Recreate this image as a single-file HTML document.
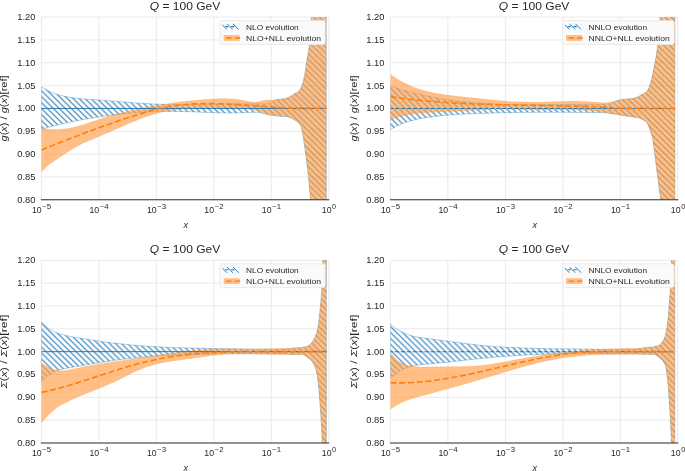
<!DOCTYPE html>
<html><head><meta charset="utf-8"><style>html,body{margin:0;padding:0;background:#fff;}svg{display:block;will-change:transform;font-family:"Liberation Sans", sans-serif;}</style></head><body>
<svg width="685" height="471" viewBox="0 0 685 471" font-family='"Liberation Sans", sans-serif'>
<defs><pattern id="hatch0" patternUnits="userSpaceOnUse" x="-1.5" y="0" width="5.96" height="5.96"><rect width="5.96" height="5.96" fill="#fff" fill-opacity="0"/><path d="M-1 -1L6.96 6.96M4.96 -1L6.96 1.00M-1 4.96L1.00 6.96" stroke="#1f77b4" stroke-width="1.05"/></pattern>
<pattern id="hatch1" patternUnits="userSpaceOnUse" x="-1.5" y="0" width="5.96" height="5.96"><rect width="5.96" height="5.96" fill="#fff" fill-opacity="0"/><path d="M-1 -1L6.96 6.96M4.96 -1L6.96 1.00M-1 4.96L1.00 6.96" stroke="#1f77b4" stroke-width="1.05"/></pattern>
<pattern id="hatch2" patternUnits="userSpaceOnUse" x="-1.5" y="0" width="5.96" height="5.96"><rect width="5.96" height="5.96" fill="#fff" fill-opacity="0"/><path d="M-1 -1L6.96 6.96M4.96 -1L6.96 1.00M-1 4.96L1.00 6.96" stroke="#1f77b4" stroke-width="1.05"/></pattern>
<pattern id="hatch3" patternUnits="userSpaceOnUse" x="-1.5" y="0" width="5.96" height="5.96"><rect width="5.96" height="5.96" fill="#fff" fill-opacity="0"/><path d="M-1 -1L6.96 6.96M4.96 -1L6.96 1.00M-1 4.96L1.00 6.96" stroke="#1f77b4" stroke-width="1.05"/></pattern>
<pattern id="hatchL0" patternUnits="userSpaceOnUse" x="-1.50" y="0.00" width="5.96" height="5.96"><path d="M-1 -1L6.96 6.96M4.96 -1L6.96 1.00M-1 4.96L1.00 6.96" stroke="#1f77b4" stroke-width="0.9"/></pattern>
<pattern id="hatchL1" patternUnits="userSpaceOnUse" x="-1.50" y="0.00" width="5.96" height="5.96"><path d="M-1 -1L6.96 6.96M4.96 -1L6.96 1.00M-1 4.96L1.00 6.96" stroke="#1f77b4" stroke-width="0.9"/></pattern>
<pattern id="hatchL2" patternUnits="userSpaceOnUse" x="-1.50" y="0.00" width="5.96" height="5.96"><path d="M-1 -1L6.96 6.96M4.96 -1L6.96 1.00M-1 4.96L1.00 6.96" stroke="#1f77b4" stroke-width="0.9"/></pattern>
<pattern id="hatchL3" patternUnits="userSpaceOnUse" x="-1.50" y="0.00" width="5.96" height="5.96"><path d="M-1 -1L6.96 6.96M4.96 -1L6.96 1.00M-1 4.96L1.00 6.96" stroke="#1f77b4" stroke-width="0.9"/></pattern></defs>
<rect width="685" height="471" fill="#fff"/>
<clipPath id="clip0"><rect x="41.35" y="17.10" width="287.40" height="182.70"/></clipPath>
<path d="M41.35 199.80H328.75M41.35 176.96H328.75M41.35 154.12H328.75M41.35 131.29H328.75M41.35 108.45H328.75M41.35 85.61H328.75M41.35 62.77H328.75M41.35 39.94H328.75M41.35 17.10H328.75M41.35 17.10V199.80M98.83 17.10V199.80M156.31 17.10V199.80M213.79 17.10V199.80M271.27 17.10V199.80M328.75 17.10V199.80" stroke="#e7e7e7" stroke-width="0.9" fill="none"/>
<g clip-path="url(#clip0)"><path d="M41.4 86.6L44.4 88.6L47.8 90.4L51.1 92.0L54.7 93.5L58.2 94.7L62.0 95.7L66.1 96.6L70.6 97.4L77.0 98.2L84.6 99.0L105.7 100.5L138.5 103.2L153.9 104.1L166.1 104.5L179.4 104.6L193.4 104.5L234.5 103.7L268.2 103.9L271.5 102.4L277.0 99.6L282.9 99.0L285.5 98.6L286.7 98.2L290.3 96.5L294.6 93.7L297.9 92.1L299.1 91.1L300.5 88.9L301.7 86.5L302.9 83.0L303.8 79.3L305.0 73.5L307.2 58.7L308.6 50.5L309.3 45.2L309.8 40.4L310.5 30.9L311.2 18.2L312.1 -12.9L326.2 -12.9L326.2 229.8L311.2 229.8L310.5 199.6L310.0 192.9L308.6 177.3L307.6 168.7L303.8 139.9L302.6 132.6L301.2 126.7L300.5 125.1L299.3 123.4L297.9 122.1L296.2 120.9L292.0 118.4L289.1 117.2L287.2 116.6L279.1 116.2L270.8 115.1L267.3 114.4L261.1 112.8L259.2 112.4L257.3 112.3L250.9 112.3L237.6 112.9L229.2 113.0L217.1 112.8L190.8 111.7L178.9 111.4L163.7 111.4L148.7 111.9L135.2 112.7L121.9 113.9L108.3 115.5L95.0 117.5L81.5 119.8L68.2 122.5L54.7 125.6L41.4 129.1Z" fill="url(#hatch0)" stroke="#1f77b4" stroke-opacity="0.35" stroke-width="1"/><path d="M41.4 128.5L49.7 129.2L57.0 129.4L63.9 129.0L70.6 128.0L75.8 126.8L81.5 125.2L100.3 118.9L109.0 116.1L117.8 113.7L126.9 111.4L139.2 108.7L152.5 106.1L167.0 103.8L181.0 101.8L192.9 100.5L204.5 99.5L216.2 98.8L225.0 98.6L230.9 98.8L236.4 99.2L241.4 100.0L250.1 101.8L252.8 102.2L254.9 102.2L257.5 101.9L263.2 100.6L266.3 100.1L269.6 99.9L277.9 99.5L282.7 99.0L286.0 98.5L288.2 97.6L290.8 96.2L294.6 93.7L297.9 92.1L299.1 91.1L300.7 88.5L301.9 85.8L303.1 82.2L304.1 78.3L305.3 72.1L307.2 58.7L308.6 50.5L309.3 45.2L309.8 40.4L310.5 30.9L311.2 18.2L312.1 -12.9L326.2 -12.9L326.2 229.8L311.2 229.8L310.5 199.6L310.0 192.9L308.3 175.0L307.4 166.9L304.1 141.7L303.1 135.3L302.4 131.4L301.7 128.4L301.0 126.1L300.3 124.7L298.8 122.9L296.9 121.4L291.7 118.3L290.1 117.5L288.4 116.9L286.5 116.4L284.6 116.2L273.0 115.4L267.7 114.6L263.9 113.6L256.6 110.6L252.8 109.5L249.7 109.1L246.1 108.8L219.3 107.9L205.5 107.8L193.4 108.1L182.5 108.9L172.2 110.3L162.5 112.1L153.2 114.6L148.0 116.2L142.5 118.1L130.2 123.0L102.6 134.9L87.2 141.5L82.4 143.6L78.2 145.7L73.7 148.2L69.6 150.7L58.2 158.5L49.7 164.1L47.3 165.9L45.2 167.9L43.3 170.0L41.4 172.4Z" fill="#ff9d45" fill-opacity="0.65" stroke="#ff7f0e" stroke-opacity="0.10" stroke-width="1"/><path d="M41.35 108.45H326.16" stroke="#1f77b4" stroke-width="0.95"/><path d="M41.4 150.0L57.3 143.5L88.1 131.7L106.0 125.2L122.6 119.4L139.5 114.0L153.0 110.1L163.2 107.6L173.7 105.8L183.2 104.7L192.9 103.9L203.1 103.6L214.0 103.6L224.3 103.9L235.7 104.5L273.0 107.2L287.9 108.2L298.6 108.4L326.2 108.4" fill="none" stroke="#ff7f0e" stroke-width="1.6" stroke-dasharray="6.1 2.65"/></g>
<path d="M40.85 199.80H329.25" stroke="#333" stroke-width="1.1"/>
<text x="35.45" y="202.80" font-size="8.4" text-anchor="end" textLength="18.2" lengthAdjust="spacingAndGlyphs" fill="#262626">0.80</text>
<text x="35.45" y="179.96" font-size="8.4" text-anchor="end" textLength="18.2" lengthAdjust="spacingAndGlyphs" fill="#262626">0.85</text>
<text x="35.45" y="157.12" font-size="8.4" text-anchor="end" textLength="18.2" lengthAdjust="spacingAndGlyphs" fill="#262626">0.90</text>
<text x="35.45" y="134.29" font-size="8.4" text-anchor="end" textLength="18.2" lengthAdjust="spacingAndGlyphs" fill="#262626">0.95</text>
<text x="35.45" y="111.45" font-size="8.4" text-anchor="end" textLength="18.2" lengthAdjust="spacingAndGlyphs" fill="#262626">1.00</text>
<text x="35.45" y="88.61" font-size="8.4" text-anchor="end" textLength="18.2" lengthAdjust="spacingAndGlyphs" fill="#262626">1.05</text>
<text x="35.45" y="65.77" font-size="8.4" text-anchor="end" textLength="18.2" lengthAdjust="spacingAndGlyphs" fill="#262626">1.10</text>
<text x="35.45" y="42.94" font-size="8.4" text-anchor="end" textLength="18.2" lengthAdjust="spacingAndGlyphs" fill="#262626">1.15</text>
<text x="35.45" y="20.10" font-size="8.4" text-anchor="end" textLength="18.2" lengthAdjust="spacingAndGlyphs" fill="#262626">1.20</text>
<text x="31.95" y="212.70" font-size="8.7" textLength="9.70" lengthAdjust="spacingAndGlyphs" fill="#262626">10</text>
<text x="42.25" y="209.20" font-size="6.6" textLength="8.90" lengthAdjust="spacingAndGlyphs" fill="#262626">−5</text>
<text x="89.43" y="212.70" font-size="8.7" textLength="9.70" lengthAdjust="spacingAndGlyphs" fill="#262626">10</text>
<text x="99.73" y="209.20" font-size="6.6" textLength="8.90" lengthAdjust="spacingAndGlyphs" fill="#262626">−4</text>
<text x="146.91" y="212.70" font-size="8.7" textLength="9.70" lengthAdjust="spacingAndGlyphs" fill="#262626">10</text>
<text x="157.21" y="209.20" font-size="6.6" textLength="8.90" lengthAdjust="spacingAndGlyphs" fill="#262626">−3</text>
<text x="204.39" y="212.70" font-size="8.7" textLength="9.70" lengthAdjust="spacingAndGlyphs" fill="#262626">10</text>
<text x="214.69" y="209.20" font-size="6.6" textLength="8.90" lengthAdjust="spacingAndGlyphs" fill="#262626">−2</text>
<text x="261.87" y="212.70" font-size="8.7" textLength="9.70" lengthAdjust="spacingAndGlyphs" fill="#262626">10</text>
<text x="272.17" y="209.20" font-size="6.6" textLength="8.90" lengthAdjust="spacingAndGlyphs" fill="#262626">−1</text>
<text x="321.80" y="212.70" font-size="8.7" textLength="9.70" lengthAdjust="spacingAndGlyphs" fill="#262626">10</text>
<text x="332.10" y="209.20" font-size="6.6" textLength="4.00" lengthAdjust="spacingAndGlyphs" fill="#262626">0</text>
<text x="185.05" y="9.50" font-size="10.6" text-anchor="middle" textLength="70.5" lengthAdjust="spacingAndGlyphs" fill="#262626"><tspan font-style="italic">Q</tspan> = 100 GeV</text>
<text x="185.65" y="228.00" font-size="9" font-style="italic" text-anchor="middle" fill="#262626">x</text>
<text transform="translate(7.45 108.45) rotate(-90)" font-size="9.0" text-anchor="middle" textLength="66.0" lengthAdjust="spacingAndGlyphs" fill="#262626"><tspan font-style="italic">g</tspan>(<tspan font-style="italic">x</tspan>) / <tspan font-style="italic">g</tspan>(<tspan font-style="italic">x</tspan>)[ref]</text>
<rect x="220.15" y="20.60" width="105.00" height="23.8" rx="2" fill="#fafafa" stroke="#e6e6e6" stroke-width="0.8"/>
<clipPath id="lc0"><rect x="222.45" y="23.70" width="16.8" height="5.9"/></clipPath>
<path clip-path="url(#lc0)" d="M220.85 23.40l6.4 6.4M226.75 23.40l6.4 6.4M232.55 23.40l6.4 6.4M238.65 23.40l6.4 6.4" stroke="#1f77b4" stroke-width="0.95"/>
<path d="M225.25 26.60h3.1M231.15 26.60h3.1" stroke="#1f77b4" stroke-width="1.1"/>
<rect x="223.65" y="35.10" width="16" height="5.7" fill="#ff7f0e" fill-opacity="0.5"/>
<path d="M226.15 38.00h14" stroke="#ff7f0e" stroke-width="1.3" stroke-dasharray="5.4 3.2"/>
<text x="246.05" y="29.90" font-size="7.8" textLength="52.6" lengthAdjust="spacingAndGlyphs" fill="#262626">NLO evolution</text>
<text x="246.05" y="40.70" font-size="7.8" textLength="74.9" lengthAdjust="spacingAndGlyphs" fill="#262626">NLO+NLL evolution</text>
<clipPath id="clip1"><rect x="390.40" y="17.10" width="287.40" height="182.70"/></clipPath>
<path d="M390.40 199.80H677.80M390.40 176.96H677.80M390.40 154.12H677.80M390.40 131.29H677.80M390.40 108.45H677.80M390.40 85.61H677.80M390.40 62.77H677.80M390.40 39.94H677.80M390.40 17.10H677.80M390.40 17.10V199.80M447.88 17.10V199.80M505.36 17.10V199.80M562.84 17.10V199.80M620.32 17.10V199.80M677.80 17.10V199.80" stroke="#e7e7e7" stroke-width="0.9" fill="none"/>
<g clip-path="url(#clip1)"><path d="M390.4 85.8L401.8 89.6L413.4 92.8L425.5 95.7L437.8 98.1L450.7 100.2L463.9 101.8L477.7 103.0L492.4 103.9L508.5 104.5L526.6 104.7L543.6 104.7L584.7 104.3L605.8 104.3L607.9 103.9L610.1 103.4L612.4 102.4L614.6 101.3L619.1 100.1L622.9 99.5L632.1 98.6L634.5 98.1L636.6 97.5L638.0 96.9L640.9 95.1L644.9 93.0L646.1 92.1L647.3 90.8L648.5 88.9L649.4 86.6L650.9 82.2L652.0 77.4L654.9 63.6L656.1 56.9L657.3 48.7L658.7 36.4L659.6 25.8L660.3 14.4L661.1 -10.0L661.3 -12.9L674.8 -12.9L674.8 229.8L661.5 229.8L661.3 229.4L660.8 204.6L660.6 198.7L660.3 196.1L657.5 175.2L653.7 145.4L652.8 139.1L652.3 136.9L651.6 134.5L650.1 130.6L648.5 125.4L647.5 123.4L646.3 121.9L644.7 120.7L642.3 119.3L639.5 118.1L636.6 117.4L625.0 115.8L608.2 113.0L604.1 112.6L556.9 112.2L527.7 112.3L497.6 112.8L469.4 113.8L454.2 114.6L440.9 115.7L428.8 117.2L419.3 118.7L411.3 120.7L407.5 121.8L403.9 123.1L400.4 124.5L397.0 126.0L393.7 127.7L390.4 129.6Z" fill="url(#hatch1)" stroke="#1f77b4" stroke-opacity="0.35" stroke-width="1"/><path d="M390.4 74.3L394.7 77.3L398.9 79.9L403.2 82.3L407.7 84.6L412.5 86.7L417.2 88.4L422.2 90.1L427.4 91.5L436.7 93.5L447.3 95.1L457.5 96.3L493.1 100.1L510.4 101.5L525.6 102.1L538.9 102.2L565.5 101.3L576.6 101.1L586.3 101.4L599.9 102.6L604.8 102.8L607.4 102.6L609.8 102.4L612.2 101.9L620.3 99.9L623.6 99.4L631.9 98.6L634.2 98.2L636.4 97.6L638.0 96.9L641.1 95.0L644.7 93.1L645.9 92.3L647.1 91.1L648.2 89.4L649.2 87.3L650.9 82.2L651.8 78.4L654.6 64.8L655.8 58.4L657.3 48.7L658.7 36.4L659.6 25.8L660.3 14.4L661.1 -10.0L661.3 -12.9L674.8 -12.9L674.8 229.8L661.5 229.8L661.3 229.4L660.8 204.6L660.6 198.7L660.3 196.1L657.5 175.2L653.7 145.4L652.8 139.1L651.8 135.3L650.1 130.6L648.5 125.4L647.8 123.8L646.6 122.2L645.2 121.0L642.8 119.6L639.9 118.3L638.3 117.7L636.6 117.4L625.7 115.9L601.5 112.0L593.0 110.9L585.1 110.2L578.5 109.8L571.2 109.6L537.0 109.7L512.1 108.9L502.8 108.9L494.8 109.0L485.5 109.4L459.9 111.0L429.3 112.5L419.1 113.3L411.0 114.3L403.7 115.7L396.8 117.6L390.4 120.0Z" fill="#ff9d45" fill-opacity="0.65" stroke="#ff7f0e" stroke-opacity="0.10" stroke-width="1"/><path d="M390.40 108.45H674.81" stroke="#1f77b4" stroke-width="1.05" stroke-dasharray="4.1 1.85" stroke-dashoffset="1.45"/><path d="M390.4 96.9L408.7 99.2L427.6 101.1L448.0 102.6L470.1 103.8L499.3 104.7L556.7 105.7L580.6 106.3L609.3 107.5L619.3 108.4L674.8 108.4" fill="none" stroke="#ff7f0e" stroke-width="1.6" stroke-dasharray="6.1 2.65"/></g>
<path d="M389.90 199.80H678.30" stroke="#333" stroke-width="1.1"/>
<text x="384.50" y="202.80" font-size="8.4" text-anchor="end" textLength="18.2" lengthAdjust="spacingAndGlyphs" fill="#262626">0.80</text>
<text x="384.50" y="179.96" font-size="8.4" text-anchor="end" textLength="18.2" lengthAdjust="spacingAndGlyphs" fill="#262626">0.85</text>
<text x="384.50" y="157.12" font-size="8.4" text-anchor="end" textLength="18.2" lengthAdjust="spacingAndGlyphs" fill="#262626">0.90</text>
<text x="384.50" y="134.29" font-size="8.4" text-anchor="end" textLength="18.2" lengthAdjust="spacingAndGlyphs" fill="#262626">0.95</text>
<text x="384.50" y="111.45" font-size="8.4" text-anchor="end" textLength="18.2" lengthAdjust="spacingAndGlyphs" fill="#262626">1.00</text>
<text x="384.50" y="88.61" font-size="8.4" text-anchor="end" textLength="18.2" lengthAdjust="spacingAndGlyphs" fill="#262626">1.05</text>
<text x="384.50" y="65.77" font-size="8.4" text-anchor="end" textLength="18.2" lengthAdjust="spacingAndGlyphs" fill="#262626">1.10</text>
<text x="384.50" y="42.94" font-size="8.4" text-anchor="end" textLength="18.2" lengthAdjust="spacingAndGlyphs" fill="#262626">1.15</text>
<text x="384.50" y="20.10" font-size="8.4" text-anchor="end" textLength="18.2" lengthAdjust="spacingAndGlyphs" fill="#262626">1.20</text>
<text x="381.00" y="212.70" font-size="8.7" textLength="9.70" lengthAdjust="spacingAndGlyphs" fill="#262626">10</text>
<text x="391.30" y="209.20" font-size="6.6" textLength="8.90" lengthAdjust="spacingAndGlyphs" fill="#262626">−5</text>
<text x="438.48" y="212.70" font-size="8.7" textLength="9.70" lengthAdjust="spacingAndGlyphs" fill="#262626">10</text>
<text x="448.78" y="209.20" font-size="6.6" textLength="8.90" lengthAdjust="spacingAndGlyphs" fill="#262626">−4</text>
<text x="495.96" y="212.70" font-size="8.7" textLength="9.70" lengthAdjust="spacingAndGlyphs" fill="#262626">10</text>
<text x="506.26" y="209.20" font-size="6.6" textLength="8.90" lengthAdjust="spacingAndGlyphs" fill="#262626">−3</text>
<text x="553.44" y="212.70" font-size="8.7" textLength="9.70" lengthAdjust="spacingAndGlyphs" fill="#262626">10</text>
<text x="563.74" y="209.20" font-size="6.6" textLength="8.90" lengthAdjust="spacingAndGlyphs" fill="#262626">−2</text>
<text x="610.92" y="212.70" font-size="8.7" textLength="9.70" lengthAdjust="spacingAndGlyphs" fill="#262626">10</text>
<text x="621.22" y="209.20" font-size="6.6" textLength="8.90" lengthAdjust="spacingAndGlyphs" fill="#262626">−1</text>
<text x="670.85" y="212.70" font-size="8.7" textLength="9.70" lengthAdjust="spacingAndGlyphs" fill="#262626">10</text>
<text x="681.15" y="209.20" font-size="6.6" textLength="4.00" lengthAdjust="spacingAndGlyphs" fill="#262626">0</text>
<text x="534.10" y="9.50" font-size="10.6" text-anchor="middle" textLength="70.5" lengthAdjust="spacingAndGlyphs" fill="#262626"><tspan font-style="italic">Q</tspan> = 100 GeV</text>
<text x="534.70" y="228.00" font-size="9" font-style="italic" text-anchor="middle" fill="#262626">x</text>
<text transform="translate(356.50 108.45) rotate(-90)" font-size="9.0" text-anchor="middle" textLength="66.0" lengthAdjust="spacingAndGlyphs" fill="#262626"><tspan font-style="italic">g</tspan>(<tspan font-style="italic">x</tspan>) / <tspan font-style="italic">g</tspan>(<tspan font-style="italic">x</tspan>)[ref]</text>
<rect x="562.60" y="20.60" width="111.60" height="23.8" rx="2" fill="#fafafa" stroke="#e6e6e6" stroke-width="0.8"/>
<clipPath id="lc1"><rect x="564.90" y="23.70" width="16.8" height="5.9"/></clipPath>
<path clip-path="url(#lc1)" d="M563.30 23.40l6.4 6.4M569.20 23.40l6.4 6.4M575.00 23.40l6.4 6.4M581.10 23.40l6.4 6.4" stroke="#1f77b4" stroke-width="0.95"/>
<path d="M567.70 26.60h3.1M573.60 26.60h3.1" stroke="#1f77b4" stroke-width="1.1"/>
<rect x="566.10" y="35.10" width="16" height="5.7" fill="#ff7f0e" fill-opacity="0.5"/>
<path d="M568.60 38.00h14" stroke="#ff7f0e" stroke-width="1.3" stroke-dasharray="5.4 3.2"/>
<text x="588.50" y="29.90" font-size="7.8" textLength="58.6" lengthAdjust="spacingAndGlyphs" fill="#262626">NNLO evolution</text>
<text x="588.50" y="40.70" font-size="7.8" textLength="81.2" lengthAdjust="spacingAndGlyphs" fill="#262626">NNLO+NLL evolution</text>
<clipPath id="clip2"><rect x="41.35" y="260.30" width="287.40" height="182.70"/></clipPath>
<path d="M41.35 443.00H328.75M41.35 420.16H328.75M41.35 397.32H328.75M41.35 374.49H328.75M41.35 351.65H328.75M41.35 328.81H328.75M41.35 305.97H328.75M41.35 283.14H328.75M41.35 260.30H328.75M41.35 260.30V443.00M98.83 260.30V443.00M156.31 260.30V443.00M213.79 260.30V443.00M271.27 260.30V443.00M328.75 260.30V443.00" stroke="#e7e7e7" stroke-width="0.9" fill="none"/>
<g clip-path="url(#clip2)"><path d="M41.4 321.7L43.7 324.2L46.1 326.4L48.5 328.2L51.1 329.9L53.9 331.5L56.8 332.8L59.9 333.9L63.5 334.9L68.2 336.0L75.3 337.4L95.1 340.5L113.6 343.1L131.0 344.9L141.4 345.8L152.1 346.6L175.9 347.7L199.2 348.3L252.4 349.2L285.7 349.2L294.2 348.0L298.5 347.8L302.1 347.5L304.2 347.1L306.4 346.5L308.5 345.7L309.7 344.9L311.6 342.9L313.5 340.2L314.9 337.5L316.4 334.1L317.3 330.9L318.0 327.3L319.2 318.7L320.9 301.9L321.6 292.4L322.1 282.0L322.5 267.0L323.2 232.0L323.5 230.3L326.3 230.3L326.3 473.0L322.8 473.0L322.3 444.4L322.1 437.8L320.9 415.2L319.2 392.2L318.0 381.0L317.1 374.3L316.1 370.1L315.2 367.0L314.2 364.7L312.8 362.2L311.4 360.4L309.2 358.5L304.5 355.1L303.0 354.4L300.9 354.3L294.2 354.6L285.5 353.7L249.1 353.7L217.0 354.0L198.5 354.2L180.4 354.7L164.2 355.5L149.0 356.5L134.8 357.8L119.8 359.6L102.9 362.0L68.9 367.8L61.6 369.3L58.7 370.1L55.8 371.1L53.2 372.3L50.6 373.8L48.2 375.4L45.9 377.2L43.5 379.4L41.4 381.7Z" fill="url(#hatch2)" stroke="#1f77b4" stroke-opacity="0.35" stroke-width="1"/><path d="M41.4 363.0L44.4 365.1L47.3 366.8L50.1 368.2L52.8 369.3L55.4 370.1L57.8 370.5L60.4 370.8L63.2 370.7L68.4 370.1L86.3 366.3L104.3 363.2L165.7 354.0L180.2 352.0L192.3 350.6L205.4 349.5L217.5 348.9L228.4 348.8L259.1 348.9L296.4 347.9L300.7 347.6L303.3 347.3L305.9 346.6L308.5 345.7L309.9 344.7L311.4 343.2L313.0 341.0L314.5 338.5L315.9 335.3L316.8 332.6L317.5 329.9L318.3 325.9L319.2 318.7L320.6 304.4L321.6 292.4L322.1 282.0L322.5 267.0L323.2 232.0L323.5 230.3L326.3 230.3L326.3 473.0L322.8 473.0L322.3 444.4L322.1 437.8L320.9 415.2L319.2 392.2L317.8 379.1L316.8 373.1L315.9 369.2L314.9 366.3L313.7 363.7L312.6 361.8L310.9 359.9L309.0 358.3L304.2 355.0L302.8 354.3L292.3 354.7L280.0 354.8L245.0 353.6L235.3 353.7L226.5 354.1L218.4 354.8L209.2 355.9L174.9 360.7L163.5 362.6L154.3 364.7L146.4 367.1L139.0 370.0L132.1 373.1L116.5 380.9L109.6 384.1L101.2 387.6L78.4 396.7L71.5 399.8L65.6 402.7L62.0 404.6L58.7 406.6L55.8 408.6L53.0 410.9L50.1 413.4L47.3 416.3L44.4 419.4L41.4 423.1Z" fill="#ff9d45" fill-opacity="0.65" stroke="#ff7f0e" stroke-opacity="0.10" stroke-width="1"/><path d="M41.35 351.65H326.34" stroke="#1f77b4" stroke-width="0.95"/><path d="M41.4 392.4L47.8 391.0L54.4 389.4L69.2 385.3L83.4 380.9L118.4 369.5L128.1 366.5L136.9 364.0L146.2 361.7L155.7 359.6L165.4 357.7L175.4 356.1L187.5 354.6L200.1 353.4L213.4 352.5L227.9 352.0L242.2 351.7L326.3 351.6" fill="none" stroke="#ff7f0e" stroke-width="1.6" stroke-dasharray="6.1 2.65"/></g>
<path d="M40.85 443.00H329.25" stroke="#333" stroke-width="1.1"/>
<text x="35.45" y="446.00" font-size="8.4" text-anchor="end" textLength="18.2" lengthAdjust="spacingAndGlyphs" fill="#262626">0.80</text>
<text x="35.45" y="423.16" font-size="8.4" text-anchor="end" textLength="18.2" lengthAdjust="spacingAndGlyphs" fill="#262626">0.85</text>
<text x="35.45" y="400.32" font-size="8.4" text-anchor="end" textLength="18.2" lengthAdjust="spacingAndGlyphs" fill="#262626">0.90</text>
<text x="35.45" y="377.49" font-size="8.4" text-anchor="end" textLength="18.2" lengthAdjust="spacingAndGlyphs" fill="#262626">0.95</text>
<text x="35.45" y="354.65" font-size="8.4" text-anchor="end" textLength="18.2" lengthAdjust="spacingAndGlyphs" fill="#262626">1.00</text>
<text x="35.45" y="331.81" font-size="8.4" text-anchor="end" textLength="18.2" lengthAdjust="spacingAndGlyphs" fill="#262626">1.05</text>
<text x="35.45" y="308.97" font-size="8.4" text-anchor="end" textLength="18.2" lengthAdjust="spacingAndGlyphs" fill="#262626">1.10</text>
<text x="35.45" y="286.14" font-size="8.4" text-anchor="end" textLength="18.2" lengthAdjust="spacingAndGlyphs" fill="#262626">1.15</text>
<text x="35.45" y="263.30" font-size="8.4" text-anchor="end" textLength="18.2" lengthAdjust="spacingAndGlyphs" fill="#262626">1.20</text>
<text x="31.95" y="455.90" font-size="8.7" textLength="9.70" lengthAdjust="spacingAndGlyphs" fill="#262626">10</text>
<text x="42.25" y="452.40" font-size="6.6" textLength="8.90" lengthAdjust="spacingAndGlyphs" fill="#262626">−5</text>
<text x="89.43" y="455.90" font-size="8.7" textLength="9.70" lengthAdjust="spacingAndGlyphs" fill="#262626">10</text>
<text x="99.73" y="452.40" font-size="6.6" textLength="8.90" lengthAdjust="spacingAndGlyphs" fill="#262626">−4</text>
<text x="146.91" y="455.90" font-size="8.7" textLength="9.70" lengthAdjust="spacingAndGlyphs" fill="#262626">10</text>
<text x="157.21" y="452.40" font-size="6.6" textLength="8.90" lengthAdjust="spacingAndGlyphs" fill="#262626">−3</text>
<text x="204.39" y="455.90" font-size="8.7" textLength="9.70" lengthAdjust="spacingAndGlyphs" fill="#262626">10</text>
<text x="214.69" y="452.40" font-size="6.6" textLength="8.90" lengthAdjust="spacingAndGlyphs" fill="#262626">−2</text>
<text x="261.87" y="455.90" font-size="8.7" textLength="9.70" lengthAdjust="spacingAndGlyphs" fill="#262626">10</text>
<text x="272.17" y="452.40" font-size="6.6" textLength="8.90" lengthAdjust="spacingAndGlyphs" fill="#262626">−1</text>
<text x="321.80" y="455.90" font-size="8.7" textLength="9.70" lengthAdjust="spacingAndGlyphs" fill="#262626">10</text>
<text x="332.10" y="452.40" font-size="6.6" textLength="4.00" lengthAdjust="spacingAndGlyphs" fill="#262626">0</text>
<text x="185.05" y="252.70" font-size="10.6" text-anchor="middle" textLength="70.5" lengthAdjust="spacingAndGlyphs" fill="#262626"><tspan font-style="italic">Q</tspan> = 100 GeV</text>
<text x="185.65" y="471.20" font-size="9" font-style="italic" text-anchor="middle" fill="#262626">x</text>
<text transform="translate(7.45 351.65) rotate(-90)" font-size="9.0" text-anchor="middle" textLength="73.9" lengthAdjust="spacingAndGlyphs" fill="#262626"><tspan font-style="italic">Σ</tspan>(<tspan font-style="italic">x</tspan>) / <tspan font-style="italic">Σ</tspan>(<tspan font-style="italic">x</tspan>)[ref]</text>
<rect x="220.15" y="263.80" width="105.00" height="23.8" rx="2" fill="#fafafa" stroke="#e6e6e6" stroke-width="0.8"/>
<clipPath id="lc2"><rect x="222.45" y="266.90" width="16.8" height="5.9"/></clipPath>
<path clip-path="url(#lc2)" d="M220.85 266.60l6.4 6.4M226.75 266.60l6.4 6.4M232.55 266.60l6.4 6.4M238.65 266.60l6.4 6.4" stroke="#1f77b4" stroke-width="0.95"/>
<path d="M225.25 269.80h3.1M231.15 269.80h3.1" stroke="#1f77b4" stroke-width="1.1"/>
<rect x="223.65" y="278.30" width="16" height="5.7" fill="#ff7f0e" fill-opacity="0.5"/>
<path d="M226.15 281.20h14" stroke="#ff7f0e" stroke-width="1.3" stroke-dasharray="5.4 3.2"/>
<text x="246.05" y="273.10" font-size="7.8" textLength="52.6" lengthAdjust="spacingAndGlyphs" fill="#262626">NLO evolution</text>
<text x="246.05" y="283.90" font-size="7.8" textLength="74.9" lengthAdjust="spacingAndGlyphs" fill="#262626">NLO+NLL evolution</text>
<clipPath id="clip3"><rect x="390.40" y="260.30" width="287.40" height="182.70"/></clipPath>
<path d="M390.40 443.00H677.80M390.40 420.16H677.80M390.40 397.32H677.80M390.40 374.49H677.80M390.40 351.65H677.80M390.40 328.81H677.80M390.40 305.97H677.80M390.40 283.14H677.80M390.40 260.30H677.80M390.40 260.30V443.00M447.88 260.30V443.00M505.36 260.30V443.00M562.84 260.30V443.00M620.32 260.30V443.00M677.80 260.30V443.00" stroke="#e7e7e7" stroke-width="0.9" fill="none"/>
<g clip-path="url(#clip3)"><path d="M390.4 323.7L393.0 326.1L395.6 328.2L398.5 330.1L401.3 331.7L404.4 333.2L407.5 334.4L410.8 335.5L414.3 336.4L418.9 337.3L424.3 338.1L465.1 343.5L478.1 345.1L490.7 346.3L501.4 347.0L512.5 347.6L524.4 348.1L537.4 348.5L602.1 349.3L634.6 349.3L639.6 348.6L643.4 347.9L653.1 346.9L656.0 346.4L658.6 345.7L659.3 345.3L660.0 344.8L661.4 343.2L663.3 340.6L664.5 338.2L665.2 336.2L665.9 333.4L666.6 330.0L667.3 325.3L668.3 316.8L670.4 288.8L671.4 261.9L672.1 230.3L674.7 230.3L674.7 473.0L672.3 473.0L672.1 472.8L671.6 443.7L670.2 414.4L669.2 399.5L668.1 384.7L667.1 374.9L666.4 370.1L665.7 366.5L665.2 364.9L664.5 363.3L663.6 361.8L661.9 359.8L660.2 358.1L657.1 355.7L655.3 354.7L654.3 354.5L650.7 354.2L643.4 354.2L639.8 353.9L635.8 353.8L621.8 354.1L587.2 353.7L560.9 353.9L542.4 354.3L524.4 355.1L507.1 356.2L490.0 357.5L475.8 359.0L444.5 362.5L422.2 364.5L417.4 365.1L413.4 365.8L410.1 366.6L407.0 367.6L403.9 368.9L401.1 370.4L398.2 372.1L395.6 374.0L393.0 376.2L390.4 378.8Z" fill="url(#hatch3)" stroke="#1f77b4" stroke-opacity="0.35" stroke-width="1"/><path d="M390.4 353.4L391.3 353.9L392.3 354.8L396.8 359.7L398.2 360.9L399.6 361.9L402.3 363.2L405.3 364.5L408.4 365.4L411.5 366.1L416.5 366.8L422.2 367.0L463.2 366.6L470.1 366.3L476.5 365.9L482.9 365.3L489.5 364.4L502.3 362.3L527.7 357.6L538.1 355.8L551.4 353.9L565.2 352.2L582.5 350.6L601.2 349.4L623.2 348.4L628.9 348.2L637.5 348.2L642.2 348.0L653.1 346.9L656.2 346.3L658.8 345.6L660.0 344.8L661.7 342.9L663.3 340.6L664.5 338.2L665.2 336.2L665.9 333.4L666.6 330.0L667.3 325.3L668.3 316.8L670.4 288.8L671.4 261.9L672.1 230.3L674.7 230.3L674.7 473.0L672.3 473.0L672.1 472.8L671.6 443.7L670.2 414.4L669.2 399.5L668.1 384.7L667.1 374.9L666.4 370.1L665.7 366.5L665.2 364.9L664.5 363.3L663.6 361.8L661.7 359.5L660.0 357.9L656.7 355.4L655.7 354.9L654.8 354.5L651.7 354.3L647.9 354.2L618.7 354.3L603.6 354.6L590.8 355.1L579.4 355.9L568.9 357.0L559.2 358.5L549.0 360.4L536.5 363.3L522.5 367.0L509.4 370.7L480.3 379.6L466.3 383.7L411.5 398.8L405.3 401.0L399.9 403.4L394.9 406.3L390.4 409.6Z" fill="#ff9d45" fill-opacity="0.65" stroke="#ff7f0e" stroke-opacity="0.10" stroke-width="1"/><path d="M390.40 351.65H674.70" stroke="#1f77b4" stroke-width="1.05" stroke-dasharray="4.1 1.85" stroke-dashoffset="1.45"/><path d="M390.4 382.7L396.6 382.9L402.7 382.9L409.1 382.7L415.8 382.4L422.4 381.8L429.3 381.1L444.0 379.0L456.8 376.8L471.3 373.8L485.0 370.7L519.4 362.7L537.6 358.8L547.1 357.0L555.9 355.5L564.4 354.2L572.5 353.2L582.5 352.3L591.9 351.8L609.0 351.6L674.7 351.6" fill="none" stroke="#ff7f0e" stroke-width="1.6" stroke-dasharray="6.1 2.65"/></g>
<path d="M389.90 443.00H678.30" stroke="#333" stroke-width="1.1"/>
<text x="384.50" y="446.00" font-size="8.4" text-anchor="end" textLength="18.2" lengthAdjust="spacingAndGlyphs" fill="#262626">0.80</text>
<text x="384.50" y="423.16" font-size="8.4" text-anchor="end" textLength="18.2" lengthAdjust="spacingAndGlyphs" fill="#262626">0.85</text>
<text x="384.50" y="400.32" font-size="8.4" text-anchor="end" textLength="18.2" lengthAdjust="spacingAndGlyphs" fill="#262626">0.90</text>
<text x="384.50" y="377.49" font-size="8.4" text-anchor="end" textLength="18.2" lengthAdjust="spacingAndGlyphs" fill="#262626">0.95</text>
<text x="384.50" y="354.65" font-size="8.4" text-anchor="end" textLength="18.2" lengthAdjust="spacingAndGlyphs" fill="#262626">1.00</text>
<text x="384.50" y="331.81" font-size="8.4" text-anchor="end" textLength="18.2" lengthAdjust="spacingAndGlyphs" fill="#262626">1.05</text>
<text x="384.50" y="308.97" font-size="8.4" text-anchor="end" textLength="18.2" lengthAdjust="spacingAndGlyphs" fill="#262626">1.10</text>
<text x="384.50" y="286.14" font-size="8.4" text-anchor="end" textLength="18.2" lengthAdjust="spacingAndGlyphs" fill="#262626">1.15</text>
<text x="384.50" y="263.30" font-size="8.4" text-anchor="end" textLength="18.2" lengthAdjust="spacingAndGlyphs" fill="#262626">1.20</text>
<text x="381.00" y="455.90" font-size="8.7" textLength="9.70" lengthAdjust="spacingAndGlyphs" fill="#262626">10</text>
<text x="391.30" y="452.40" font-size="6.6" textLength="8.90" lengthAdjust="spacingAndGlyphs" fill="#262626">−5</text>
<text x="438.48" y="455.90" font-size="8.7" textLength="9.70" lengthAdjust="spacingAndGlyphs" fill="#262626">10</text>
<text x="448.78" y="452.40" font-size="6.6" textLength="8.90" lengthAdjust="spacingAndGlyphs" fill="#262626">−4</text>
<text x="495.96" y="455.90" font-size="8.7" textLength="9.70" lengthAdjust="spacingAndGlyphs" fill="#262626">10</text>
<text x="506.26" y="452.40" font-size="6.6" textLength="8.90" lengthAdjust="spacingAndGlyphs" fill="#262626">−3</text>
<text x="553.44" y="455.90" font-size="8.7" textLength="9.70" lengthAdjust="spacingAndGlyphs" fill="#262626">10</text>
<text x="563.74" y="452.40" font-size="6.6" textLength="8.90" lengthAdjust="spacingAndGlyphs" fill="#262626">−2</text>
<text x="610.92" y="455.90" font-size="8.7" textLength="9.70" lengthAdjust="spacingAndGlyphs" fill="#262626">10</text>
<text x="621.22" y="452.40" font-size="6.6" textLength="8.90" lengthAdjust="spacingAndGlyphs" fill="#262626">−1</text>
<text x="670.85" y="455.90" font-size="8.7" textLength="9.70" lengthAdjust="spacingAndGlyphs" fill="#262626">10</text>
<text x="681.15" y="452.40" font-size="6.6" textLength="4.00" lengthAdjust="spacingAndGlyphs" fill="#262626">0</text>
<text x="534.10" y="252.70" font-size="10.6" text-anchor="middle" textLength="70.5" lengthAdjust="spacingAndGlyphs" fill="#262626"><tspan font-style="italic">Q</tspan> = 100 GeV</text>
<text x="534.70" y="471.20" font-size="9" font-style="italic" text-anchor="middle" fill="#262626">x</text>
<text transform="translate(356.50 351.65) rotate(-90)" font-size="9.0" text-anchor="middle" textLength="73.9" lengthAdjust="spacingAndGlyphs" fill="#262626"><tspan font-style="italic">Σ</tspan>(<tspan font-style="italic">x</tspan>) / <tspan font-style="italic">Σ</tspan>(<tspan font-style="italic">x</tspan>)[ref]</text>
<rect x="562.60" y="263.80" width="111.60" height="23.8" rx="2" fill="#fafafa" stroke="#e6e6e6" stroke-width="0.8"/>
<clipPath id="lc3"><rect x="564.90" y="266.90" width="16.8" height="5.9"/></clipPath>
<path clip-path="url(#lc3)" d="M563.30 266.60l6.4 6.4M569.20 266.60l6.4 6.4M575.00 266.60l6.4 6.4M581.10 266.60l6.4 6.4" stroke="#1f77b4" stroke-width="0.95"/>
<path d="M567.70 269.80h3.1M573.60 269.80h3.1" stroke="#1f77b4" stroke-width="1.1"/>
<rect x="566.10" y="278.30" width="16" height="5.7" fill="#ff7f0e" fill-opacity="0.5"/>
<path d="M568.60 281.20h14" stroke="#ff7f0e" stroke-width="1.3" stroke-dasharray="5.4 3.2"/>
<text x="588.50" y="273.10" font-size="7.8" textLength="58.6" lengthAdjust="spacingAndGlyphs" fill="#262626">NNLO evolution</text>
<text x="588.50" y="283.90" font-size="7.8" textLength="81.2" lengthAdjust="spacingAndGlyphs" fill="#262626">NNLO+NLL evolution</text>
</svg>
</body></html>
